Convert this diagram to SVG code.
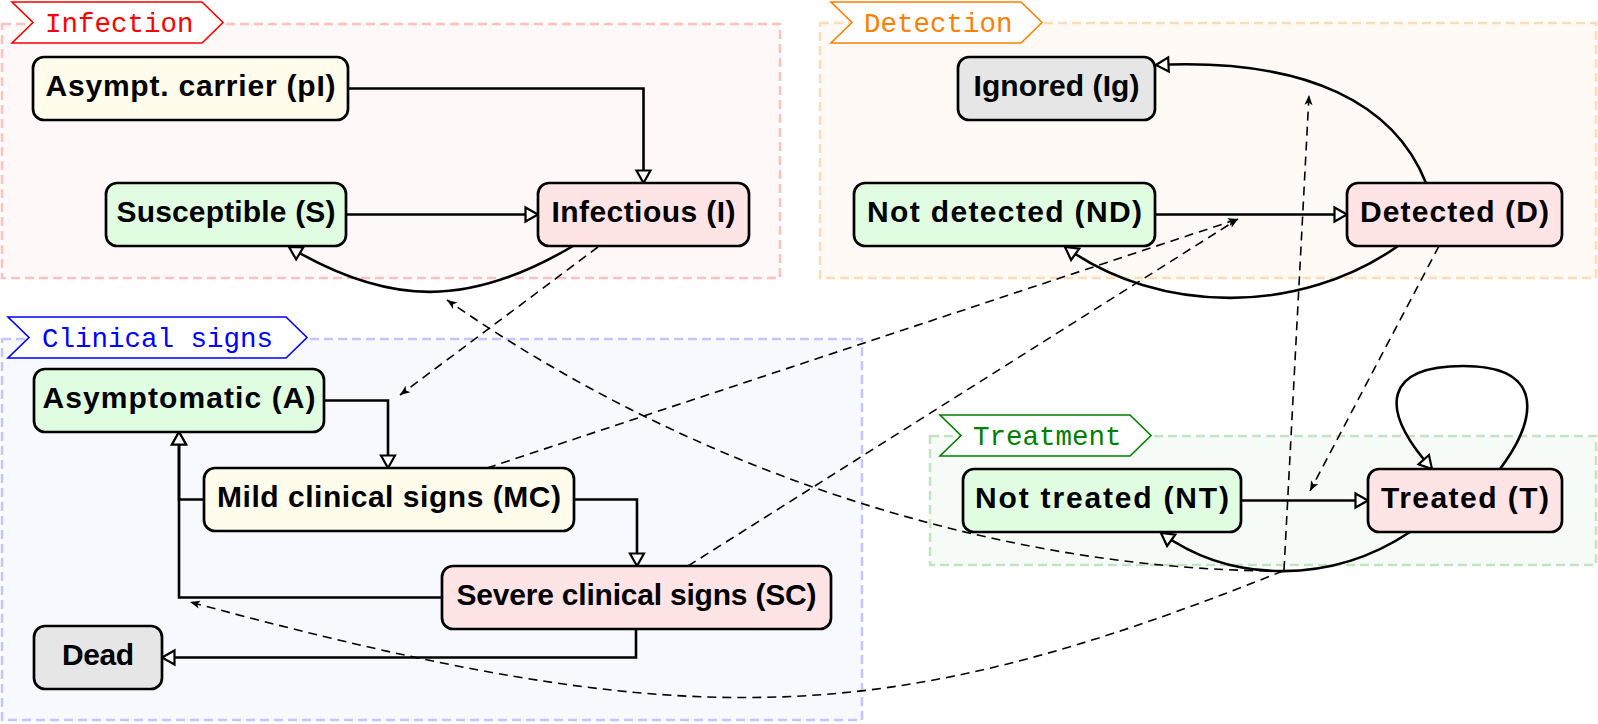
<svg xmlns="http://www.w3.org/2000/svg" width="1598" height="724" viewBox="0 0 1598 724">
<style>
.grp{stroke-width:2.5;stroke-dasharray:9,5}
.tag{fill:#fff;stroke-width:1.6}
.tagt{font-family:"Liberation Mono","DejaVu Sans Mono",monospace;font-size:27.5px}
.nd{stroke:#000;stroke-width:2.7}
.lbl{font-family:"Liberation Sans",Arial,sans-serif;font-weight:bold;font-size:30px;text-anchor:middle;fill:#000}
.g{fill:#e1fde1}.p{fill:#ffe4e6}.y{fill:#fffcec}.k{fill:#e6e6e6}
.c{fill:none;stroke:#000;stroke-width:2.6;marker-end:url(#ot)}
.d{fill:none;stroke:#000;stroke-width:1.6;stroke-dasharray:9,6;marker-end:url(#st)}
</style>
<defs>
<marker id="ot" markerUnits="userSpaceOnUse" markerWidth="20" markerHeight="20" refX="14" refY="8" orient="auto" overflow="visible">
<path d="M1.5,1 L14,8 L1.5,15 z" fill="#fff" stroke="#000" stroke-width="2.2"/>
</marker>
<marker id="st" markerUnits="userSpaceOnUse" markerWidth="12" markerHeight="10" refX="10" refY="4" orient="auto" overflow="visible">
<path d="M0,0 L10,4 L0,8 L2.5,4 z" fill="#000"/>
</marker>
</defs>

<g id="group-infection">
<rect class="grp" x="2" y="24" width="778" height="254" fill="#fff8f8" stroke="#ffc0c0"/>
<polygon class="tag" points="12,2 202,2 223,22.5 202,43 12,43 33,22.5" stroke="#ff0000"/>
<text class="tagt" x="45" y="32" fill="#ff0000">Infection</text>
</g>
<g id="group-detection">
<rect class="grp" x="820" y="23" width="776" height="255" fill="#fffaf5" stroke="#ffdcb8"/>
<polygon class="tag" points="831,2 1021,2 1042,22.5 1021,43 831,43 852,22.5" stroke="#ff8000"/>
<text class="tagt" x="864" y="32" fill="#ff8000">Detection</text>
</g>
<g id="group-clinical">
<rect class="grp" x="2" y="339" width="860" height="381" fill="#f8f8ff" stroke="#c4c4ff"/>
<polygon class="tag" points="8,317 286,317 307,337.5 286,358 8,358 29,337.5" stroke="#0000ff"/>
<text class="tagt" x="42" y="347" fill="#0000ff">Clinical signs</text>
</g>
<g id="group-treatment">
<rect class="grp" x="930" y="436" width="666" height="129" fill="#f7fbf7" stroke="#c4e2c4"/>
<polygon class="tag" points="940,415 1130,415 1151,435.5 1130,456 940,456 961,435.5" stroke="#008000"/>
<text class="tagt" x="973" y="445" fill="#008000">Treatment</text>
</g>

<g id="connectors">
<path class="c" d="M348,88.5 H643.5 V183"/>
<path class="c" d="M346,214.5 H538"/>
<path class="c" d="M573,246 C470,307 390,307 289,247"/>
<path class="c" d="M1155,214.5 H1347"/>
<path class="c" d="M1398,246 C1300,315 1160,315 1065,247"/>
<path class="c" d="M1426,183 C1395,105 1310,58 1156,65"/>
<path class="c" d="M324,400.5 H388 V468"/>
<path class="c" d="M574,499.5 H637 V566"/>
<path class="c" d="M204,499.5 H179 V432"/>
<path class="c" d="M442,597.5 H179 V432"/>
<path class="c" d="M636,628 V657.5 H162"/>
<path class="c" d="M1241,500.5 H1368"/>
<path class="c" d="M1410,532 C1332,584 1232,584 1161,533"/>
<path class="c" d="M1500,469 C1538,418 1545,366 1463,366 C1388,366 1375,405 1432,469"/>
<path class="d" d="M598,247 L400,395"/>
<path class="d" d="M487,468 L1238,219"/>
<path class="d" d="M688,566 L1238,219"/>
<path class="d" d="M1439,246 L1310,491"/>
<path class="d" d="M1284,570 L1309,95"/>
<path class="d" d="M1283,571 C883,731 690,737 190,602"/>
<path class="d" d="M1283,571 C1030,571 720,490 447,300"/>
</g>

<g id="node-pI"><rect class="nd y" x="33" y="57" width="315" height="63" rx="11"/><text class="lbl" x="190.5" y="96" textLength="290">Asympt. carrier (pI)</text></g>
<g id="node-S"><rect class="nd g" x="106" y="183" width="240" height="63" rx="11"/><text class="lbl" x="226" y="222" textLength="219">Susceptible (S)</text></g>
<g id="node-I"><rect class="nd p" x="538" y="183" width="211" height="63" rx="11"/><text class="lbl" x="643.5" y="222" textLength="184">Infectious (I)</text></g>
<g id="node-Ig"><rect class="nd k" x="958" y="57" width="197" height="63" rx="11"/><text class="lbl" x="1056.5" y="96" textLength="166">Ignored (Ig)</text></g>
<g id="node-ND"><rect class="nd g" x="854" y="183" width="301" height="63" rx="11"/><text class="lbl" x="1004.5" y="222" textLength="275">Not detected (ND)</text></g>
<g id="node-D"><rect class="nd p" x="1347" y="183" width="215" height="63" rx="11"/><text class="lbl" x="1454.5" y="222" textLength="189">Detected (D)</text></g>
<g id="node-A"><rect class="nd g" x="34" y="369" width="290" height="63" rx="11"/><text class="lbl" x="179" y="408" textLength="273">Asymptomatic (A)</text></g>
<g id="node-MC"><rect class="nd y" x="204" y="468" width="370" height="63" rx="11"/><text class="lbl" x="389" y="507" textLength="344">Mild clinical signs (MC)</text></g>
<g id="node-SC"><rect class="nd p" x="442" y="566" width="389" height="63" rx="11"/><text class="lbl" x="636.5" y="605" textLength="360">Severe clinical signs (SC)</text></g>
<g id="node-Dead"><rect class="nd k" x="34" y="626" width="128" height="63" rx="11"/><text class="lbl" x="98" y="665" textLength="72">Dead</text></g>
<g id="node-NT"><rect class="nd g" x="963" y="469" width="278" height="63" rx="11"/><text class="lbl" x="1102" y="508" textLength="254">Not treated (NT)</text></g>
<g id="node-T"><rect class="nd p" x="1368" y="469" width="194" height="63" rx="11"/><text class="lbl" x="1465" y="508" textLength="168">Treated (T)</text></g>
</svg>
